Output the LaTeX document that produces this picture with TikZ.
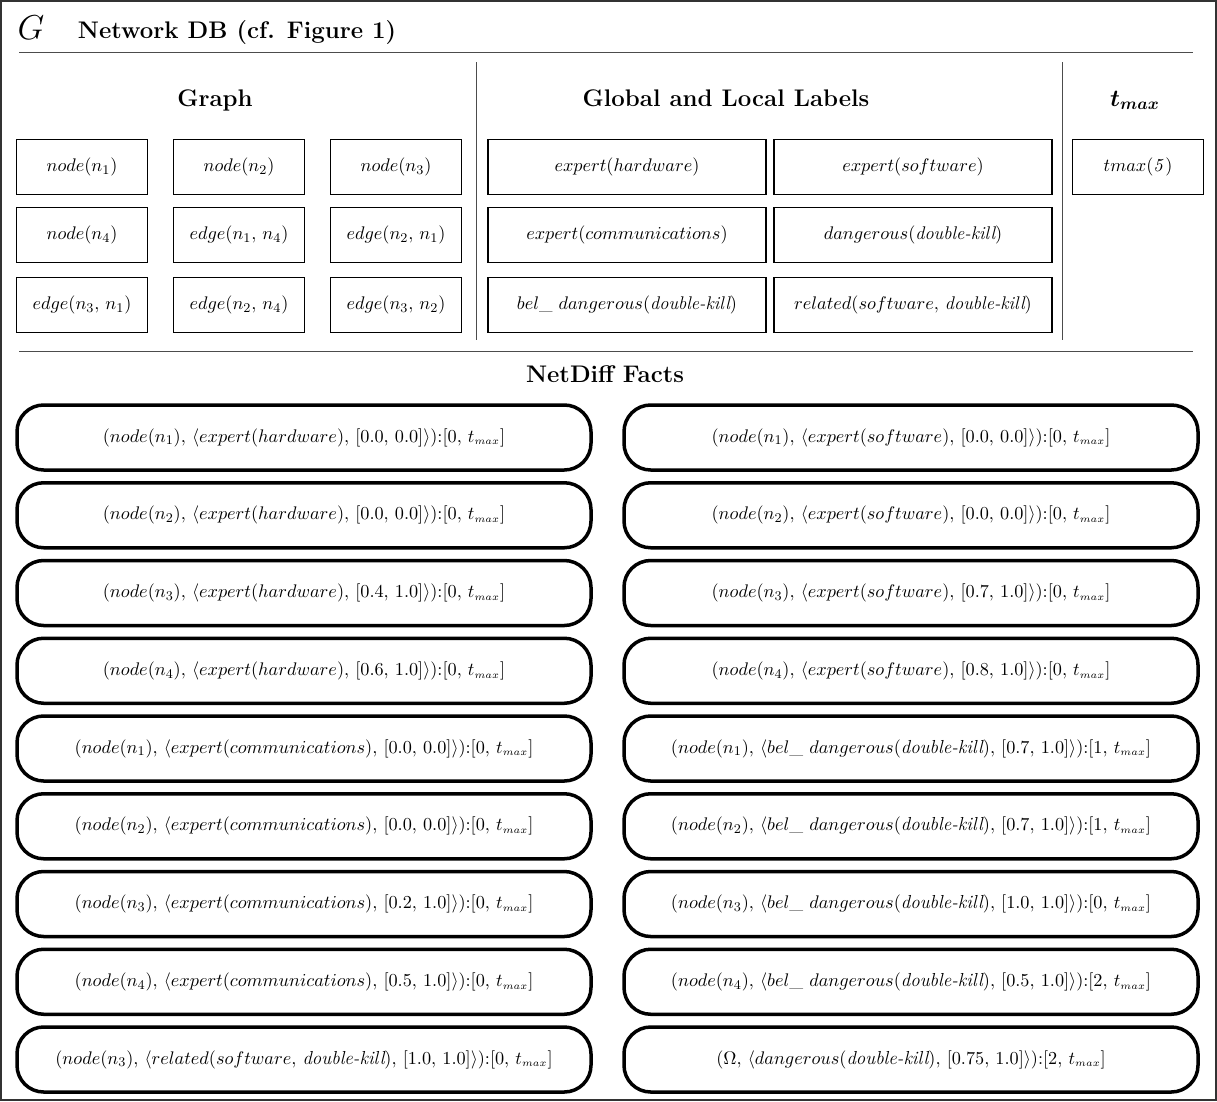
\documentclass[tikz,border=0pt]{standalone}
\usepackage{amsmath,amssymb}
\usepackage{tikz}
\usetikzlibrary{positioning}
\newcommand{\tmx}{t_{\scriptscriptstyle max}}
\newcommand{\dk}{\textit{double-kill}}
\newcommand{\cm}{{,}\ }
\newcommand{\fct}[5]{$(#1\cm\langle #2\cm[#3\cm#4]\rangle){:}[#5\cm\tmx]$}

\begin{document}
\begin{tikzpicture}[x=0.6pt,y=-0.6pt,
    box/.style={draw,line width=1.1pt,minimum width=78.6pt,minimum height=33pt,inner sep=2pt,font=\fontsize{11}{13}\selectfont},
    lbox/.style={box,minimum width=166.8pt},
    fact/.style={draw,line width=2.1pt,rounded corners=16pt,minimum width=344.4pt,minimum height=39pt,font=\fontsize{11.3}{13}\selectfont},
    head/.style={font=\Large\bfseries,anchor=base},
    rule/.style={black!70,line width=0.6pt}]
\useasboundingbox (0,0) rectangle (1217,1101);
\draw[line width=0.8pt,black!80] (1,1) rectangle (1216,1100);
% title
\node[font=\huge,anchor=base] (g) at (31,39) {$G$};
\node[head,anchor=base west] (title) at (72,38) {Network DB (cf. Figure 1)};
\draw[rule] (19,52) -- (1193,52);
\draw[rule] (476,62) -- (476,340);
\draw[rule] (1062,62) -- (1062,340);
\draw[rule] (19,351) -- (1193,351);
% headings
\node[head] (hgraph) at (215,106) {Graph};
\node[head] (hlabels) at (726,106) {Global and Local Labels};
\node[head] (htmax) at (1135,106) {$\boldsymbol{t_{max}}$};
\node[head] (hfacts) at (605,382) {NetDiff Facts};
% graph
\node[box] (nd1) at (82,167) {$node(n_1)$};
\node[box] (nd2) at (239,167) {$node(n_2)$};
\node[box] (nd3) at (396,167) {$node(n_3)$};
\node[box] (nd4) at (82,235) {$node(n_4)$};
\node[box] (e14) at (239,235) {$edge(n_1\cm n_4)$};
\node[box] (e21) at (396,235) {$edge(n_2\cm n_1)$};
\node[box] (e31) at (82,305) {$edge(n_3\cm n_1)$};
\node[box] (e24) at (239,305) {$edge(n_2\cm n_4)$};
\node[box] (e32) at (396,305) {$edge(n_3\cm n_2)$};
% labels
\node[lbox] (exhw) at (627,167) {$expert(hardware)$};
\node[lbox] (exsw) at (913,167) {$expert(software)$};
\node[lbox] (excom) at (627,235) {$expert(communications)$};
\node[lbox] (dang) at (913,235) {$dangerous(\dk)$};
\node[lbox] (beldang) at (627,305) {$bel\_\ dangerous(\dk)$};
\node[lbox] (rel) at (913,305) {$related(software\cm\dk)$};
% tmax
\node[box] (tmx) at (1138,167) {$tmax(\mathit{5})$};
% facts, left column
\node[fact] (fhw1) at (304,437.5) {\fct{node(n_1)}{expert(hardware)}{0.0}{0.0}{0}};
\node[fact] (fhw2) at (304,515.25) {\fct{node(n_2)}{expert(hardware)}{0.0}{0.0}{0}};
\node[fact] (fhw3) at (304,593) {\fct{node(n_3)}{expert(hardware)}{0.4}{1.0}{0}};
\node[fact] (fhw4) at (304,670.75) {\fct{node(n_4)}{expert(hardware)}{0.6}{1.0}{0}};
\node[fact] (fcom1) at (304,748.5) {\fct{node(n_1)}{expert(communications)}{0.0}{0.0}{0}};
\node[fact] (fcom2) at (304,826.25) {\fct{node(n_2)}{expert(communications)}{0.0}{0.0}{0}};
\node[fact] (fcom3) at (304,904) {\fct{node(n_3)}{expert(communications)}{0.2}{1.0}{0}};
\node[fact] (fcom4) at (304,981.75) {\fct{node(n_4)}{expert(communications)}{0.5}{1.0}{0}};
\node[fact] (frel) at (304,1059.5) {\fct{node(n_3)}{related(software\cm\dk)}{1.0}{1.0}{0}};
% facts, right column
\node[fact] (fsw1) at (911,437.5) {\fct{node(n_1)}{expert(software)}{0.0}{0.0}{0}};
\node[fact] (fsw2) at (911,515.25) {\fct{node(n_2)}{expert(software)}{0.0}{0.0}{0}};
\node[fact] (fsw3) at (911,593) {\fct{node(n_3)}{expert(software)}{0.7}{1.0}{0}};
\node[fact] (fsw4) at (911,670.75) {\fct{node(n_4)}{expert(software)}{0.8}{1.0}{0}};
\node[fact] (fbel1) at (911,748.5) {\fct{node(n_1)}{bel\_\ dangerous(\dk)}{0.7}{1.0}{1}};
\node[fact] (fbel2) at (911,826.25) {\fct{node(n_2)}{bel\_\ dangerous(\dk)}{0.7}{1.0}{1}};
\node[fact] (fbel3) at (911,904) {\fct{node(n_3)}{bel\_\ dangerous(\dk)}{1.0}{1.0}{0}};
\node[fact] (fbel4) at (911,981.75) {\fct{node(n_4)}{bel\_\ dangerous(\dk)}{0.5}{1.0}{2}};
\node[fact] (fomega) at (911,1059.5) {\fct{\Omega}{dangerous(\dk)}{0.75}{1.0}{2}};
\end{tikzpicture}
\end{document}
